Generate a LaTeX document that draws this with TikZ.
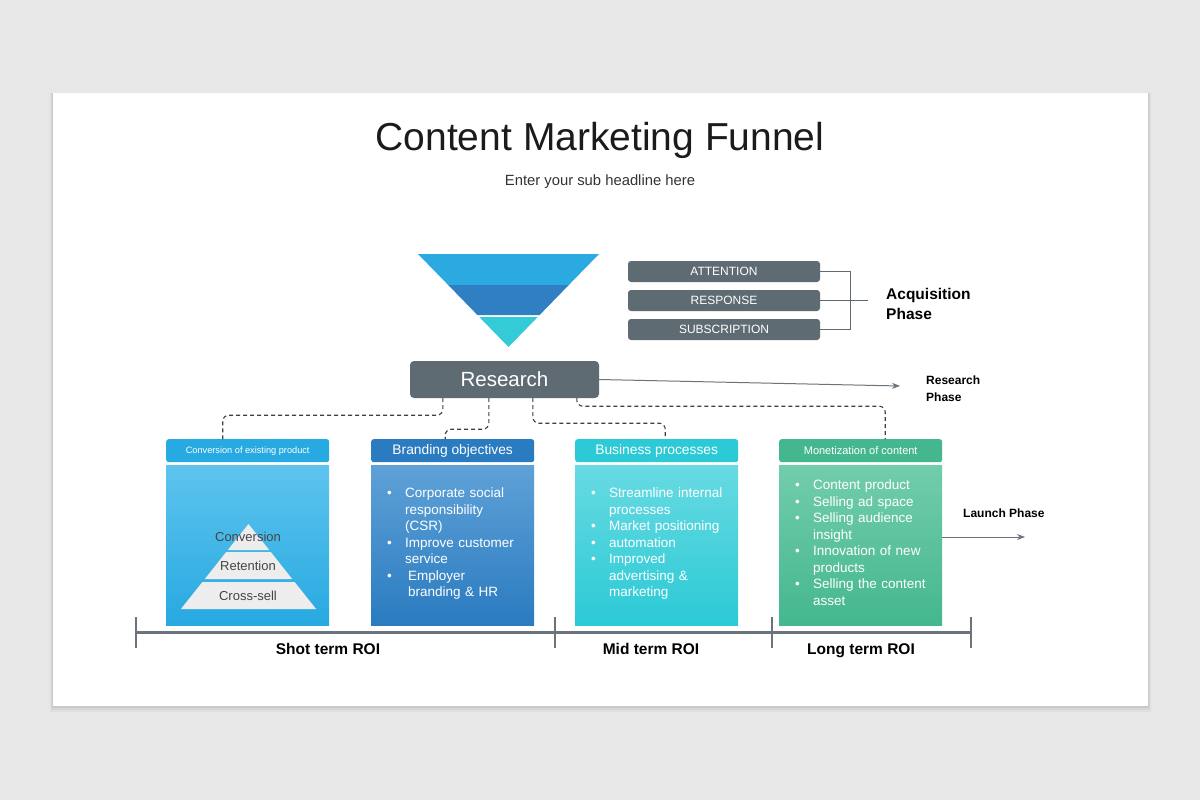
\documentclass[tikz,border=0pt]{standalone}
\usepackage{fontspec}
\setmainfont{Liberation Sans}
\usetikzlibrary{positioning,arrows.meta,calc}

\definecolor{bggray}{HTML}{E8E7E8}
\definecolor{slate}{HTML}{5F6B73}
\definecolor{barline}{HTML}{6B747C}
\definecolor{inkdark}{HTML}{1B1B1B}
\definecolor{skyblue}{HTML}{27A9E1}
\definecolor{skylight}{HTML}{5EC4EE}
\definecolor{midblue}{HTML}{2A7BC0}
\definecolor{midlight}{HTML}{5FA1D7}
\definecolor{aqua}{HTML}{2BCAD6}
\definecolor{aqualight}{HTML}{68DAE2}
\definecolor{jade}{HTML}{44B78F}
\definecolor{jadelight}{HTML}{72CDAB}
\definecolor{funtop}{HTML}{2BA9E1}
\definecolor{funmid}{HTML}{2F7FC2}
\definecolor{funbot}{HTML}{33CBD7}
\definecolor{pyrfill}{HTML}{EDEDED}
\definecolor{pyrtext}{HTML}{454545}

\newcommand\fs[2]{\fontsize{#1}{#2}\selectfont}
\newcommand\bul{\par\hangindent=18pt\hangafter=1\noindent\hbox to 18pt{\textbullet\hfil}}

\begin{document}
\begin{tikzpicture}[
  x=1pt, y=-1pt,
  phasebox/.style={rectangle, rounded corners=3pt, fill=slate, text=white,
    minimum width=192pt, minimum height=21pt, inner sep=0pt, font=\fs{12}{14}},
  researchbox/.style={rectangle, rounded corners=4pt, fill=slate, text=white,
    minimum width=189pt, minimum height=37pt, inner sep=0pt, font=\fs{20.5}{22}},
  cardhead/.style={rectangle, rounded corners=2.5pt, minimum width=163pt,
    minimum height=23pt, inner sep=0pt, text=white, anchor=north west},
  cardbody/.style={rectangle, minimum width=163pt, minimum height=160pt,
    inner sep=0pt, anchor=north west},
  bullets/.style={text=white, text width=150pt, align=left, anchor=north west,
    inner sep=0pt, font=\fs{13.5}{16.5}},
  phaselabel/.style={font=\bfseries\fs{12}{17}, align=left, anchor=west, inner sep=0pt},
  pyrlabel/.style={text=pyrtext, font=\fs{13}{14}, inner sep=0pt, anchor=base},
  roilabel/.style={font=\bfseries\fs{15.5}{17}, inner sep=0pt, anchor=base},
  conn/.style={draw=black!75, line width=1.1pt, dash pattern=on 4pt off 3pt, rounded corners=6pt},
  bracket/.style={draw=slate, line width=1.2pt},
  phasearrow/.style={draw=barline, line width=1pt, -{Stealth[length=8pt,width=6pt]}}
]
\useasboundingbox (0,0) rectangle (1200,800);
\fill[bggray] (0,0) rectangle (1200,800);

% slide
\foreach \s/\o in {6/0.03, 4/0.04, 2/0.06} {
  \fill[black, opacity=\o] (53-\s/2,93) rectangle (1148+\s/2,706+\s);
}
\fill[white] (53,93) rectangle (1148,706);

% title
\node[text=inkdark, font=\fs{39}{42}] (title) at (600,140) {Content Marketing Funnel};
\node[text=black!80, font=\fs{14.8}{16}] (subtitle) at (600,182) {Enter your sub headline here};

% ===== funnel =====
\fill[funtop] (418,254) -- (599,254) -- (568.8,285) -- (448.2,285) -- cycle;
\fill[funmid] (448.2,285) -- (568.8,285) -- (539.6,315) -- (477.4,315) -- cycle;
\fill[funbot] (479.3,317) -- (537.7,317) -- (508.5,347) -- cycle;

% ===== acquisition phase =====
\node[phasebox] (attn) at (724,271.5) {ATTENTION};
\node[phasebox] (resp) at (724,300.5) {RESPONSE};
\node[phasebox] (subs) at (724,329.5) {SUBSCRIPTION};
\draw[bracket] (attn.east) -| ([xshift=30pt]resp.east) |- (subs.east);
\draw[bracket] (resp.east) -- ([xshift=48pt]resp.east);
\node[phaselabel, font=\bfseries\fs{15.5}{20}] (acq) at (886,304) {Acquisition\\Phase};

% ===== research =====
\node[researchbox] (research) at (504.5,379.5) {Research};
\coordinate (resend) at (900,386);
\draw[phasearrow] (research.east) -- (resend);
\node[phaselabel] (resphase) at (926,389) {Research\\Phase};

% ===== cards =====
\node[cardhead, fill=skyblue, font=\fs{9.2}{10}] (convhead) at (166,439) {Conversion of existing product};
\node[cardbody, top color=skylight, bottom color=skyblue] (convbody) at (166,465) {};
\node[cardhead, fill=midblue, font=\fs{13.8}{15}] (brandhead) at (371,439) {Branding objectives};
\node[cardbody, top color=midlight, bottom color=midblue] (brandbody) at (371,465) {};
\node[cardhead, fill=aqua, font=\fs{13.8}{15}] (bizhead) at (575,439) {Business processes};
\node[cardbody, top color=aqualight, bottom color=aqua] (bizbody) at (575,465) {};
\node[cardhead, fill=jade, font=\fs{11}{12}] (monhead) at (779,439) {Monetization of content};
\node[cardbody, top color=jadelight, bottom color=jade] (monbody) at (779,465) {};

% pyramid
\fill[pyrfill] (248.5,524) -- (269.2,550) -- (227.8,550) -- cycle;
\fill[pyrfill] (226.2,552) -- (270.8,552) -- (292.2,579) -- (204.8,579) -- cycle;
\fill[pyrfill] (202.4,582) -- (294.6,582) -- (316.1,609) -- (180.9,609) -- cycle;
\node[pyrlabel] (conv) at (248,541) {Conversion};
\node[pyrlabel] (reten) at (248,570) {Retention};
\node[pyrlabel] (cross) at (248,600) {Cross-sell};

% bullet lists
\node[bullets] (brandlist) at (387,481) {%
  \bul Corporate social\newline responsibility\newline (CSR)
  \bul Improve customer\newline service
  \bul\hspace{3pt}Employer\newline\hspace*{3pt}branding \& HR\par};
\node[bullets] (bizlist) at (591,481) {%
  \bul Streamline internal\newline processes
  \bul Market positioning
  \bul automation
  \bul Improved\newline advertising \&\newline marketing\par};
\node[bullets] (monlist) at (795,473) {%
  \bul Content product
  \bul Selling ad space
  \bul Selling audience\newline insight
  \bul Innovation of new\newline products
  \bul Selling the content\newline asset\par};

% dashed connectors
\draw[conn] ([xshift=33pt]research.south west) -- ++(0,17) -| ([xshift=-25pt]convhead.north);
\draw[conn] ([xshift=79pt]research.south west) -- ++(0,31) -| ([xshift=-7.5pt]brandhead.north);
\draw[conn] ([xshift=123pt]research.south west) -- ++(0,25) -| ([xshift=8.5pt]bizhead.north);
\draw[conn] ([xshift=167pt]research.south west) -- ++(0,8) -| ([xshift=24.5pt]monhead.north);

% launch phase
\coordinate (launchend) at (1025,537);
\draw[phasearrow] (launchend -| monbody.east) -- (launchend);
\node[phaselabel] (launch) at (963,513) {Launch Phase};

% ===== ROI bar =====
\coordinate (roiA) at (136,632);
\coordinate (roiB) at (555,632);
\coordinate (roiC) at (772,632);
\coordinate (roiD) at (971,632);
\draw[barline, line width=3pt] (roiA) -- (roiD);
\foreach \p in {roiA, roiB, roiC, roiD} {
  \draw[barline, line width=1.5pt] ([yshift=15pt]\p) -- ([yshift=-16pt]\p);
}
\node[roilabel] (shortroi) at (328,654) {Shot term ROI};
\node[roilabel] (midroi) at (651,654) {Mid term ROI};
\node[roilabel] (longroi) at (861,654) {Long term ROI};

\end{tikzpicture}
\end{document}
